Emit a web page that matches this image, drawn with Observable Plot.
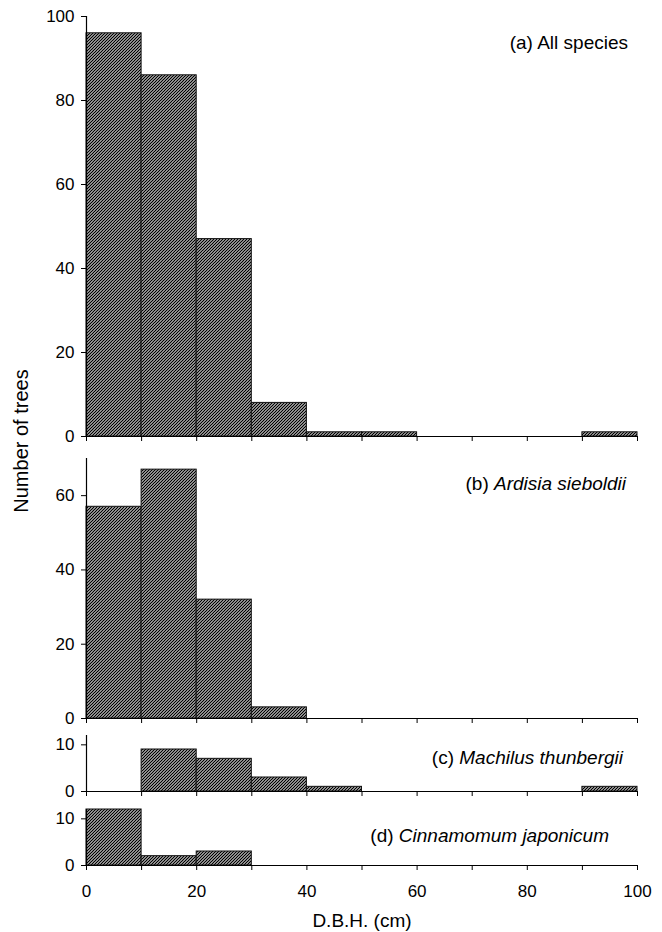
<!DOCTYPE html>
<html>
<head>
<meta charset="utf-8">
<script src="https://cdn.jsdelivr.net/npm/d3@7"></script>
<script src="https://cdn.jsdelivr.net/npm/@observablehq/plot@0.6"></script>
<style>
  body { margin: 0; background: #fff; font-family: 'Liberation Sans', Arial, sans-serif; }
  #chart { position: relative; width: 662px; height: 932px; overflow: hidden; }
  .panel { position: absolute; left: 0; }
  .plabel { position: absolute; font-size: 19px; line-height: 19px; white-space: nowrap; color: #000; }
  .ylabel { position: absolute; font-size: 20px; line-height: 20px; width: 240px; text-align: center; transform: rotate(-90deg); white-space: nowrap; }
</style>
</head>
<body>
<svg width="0" height="0" style="position:absolute">
  <defs>
    <pattern id="hatch" patternUnits="userSpaceOnUse" width="3" height="3">
      <rect width="3" height="3" fill="#fff"></rect>
      <path d="M-1,1 l2,-2 M0,3 l3,-3 M2,4 l2,-2" stroke="#000" stroke-width="1.3"></path>
    </pattern>
  </defs>
</svg>
<div id="chart"></div>
<script>
// ---- data ----
const binStarts = [0, 10, 20, 30, 40, 50, 60, 70, 80, 90];
const binWidth = 10;
const countsAll = [96, 86, 47, 8, 1, 1, 0, 0, 0, 1];
const countsArdisia = [57, 67, 32, 3, 0, 0, 0, 0, 0, 0];
const countsMachilus = [0, 9, 7, 3, 1, 0, 0, 0, 0, 1];
const countsCinnamomum = [12, 2, 3, 0, 0, 0, 0, 0, 0, 0];

const xTicks = [0, 10, 20, 30, 40, 50, 60, 70, 80, 90, 100];
const xTickLabels = [0, 20, 40, 60, 80, 100];
const yTicksA = [0, 20, 40, 60, 80, 100];
const yTicksB = [0, 20, 40, 60];
const yTicksC = [0, 10];
const yTicksD = [0, 10];

const xTitle = "D.B.H. (cm)";
const yTitle = "Number of trees";

const panels = [
  {counts: countsAll, ymax: 100, yTicks: yTicksA, top: 0, mt: 16, inner: 420, mb: 6, prefix: "(a) ", name: "All species", italic: false, right: 34, cy: 42, last: false},
  {counts: countsArdisia, ymax: 70, yTicks: yTicksB, top: 442, mt: 16, inner: 260, mb: 6, prefix: "(b) ", name: "Ardisia sieboldii", italic: true, right: 36, cy: 483, last: false},
  {counts: countsMachilus, ymax: 12, yTicks: yTicksC, top: 724, mt: 11, inner: 56, mb: 6, prefix: "(c) ", name: "Machilus thunbergii", italic: true, right: 39, cy: 757, last: false},
  {counts: countsCinnamomum, ymax: 12, yTicks: yTicksD, top: 797, mt: 12, inner: 56, mb: 67, prefix: "(d) ", name: "Cinnamomum japonicum", italic: true, right: 53, cy: 835, last: true}
];

const chart = document.getElementById("chart");

for (const p of panels) {
  const rows = binStarts.map((b, i) => ({x1: b, x2: b + binWidth, count: p.counts[i]})).filter(d => d.count > 0);
  const marks = [
    Plot.rectY(rows, {x1: "x1", x2: "x2", y1: 0, y2: "count", fill: "url(#hatch)", stroke: "#111", strokeWidth: 1}),
    Plot.ruleY([0], {stroke: "#000", strokeWidth: 1.2}),
    Plot.ruleX([0], {stroke: "#000", strokeWidth: 1.2}),
    Plot.axisY({ticks: p.yTicks, tickSize: 5, tickPadding: 7, label: null, fontSize: 17, stroke: "#000"}),
    Plot.axisX({ticks: xTicks, tickSize: 5, tickPadding: 14, label: null, fontSize: 17,
      tickFormat: p.last ? (d => xTickLabels.includes(d) ? String(d) : "") : (() => "")})
  ];
  if (p.last) {
    marks.push(Plot.text([xTitle], {text: d => d, frameAnchor: "bottom", dy: 55, fontSize: 19, lineAnchor: "middle", fill: "#000"}));
  }
  const svg = Plot.plot({
    width: 662,
    height: p.mt + p.inner + p.mb,
    marginLeft: 86,
    marginRight: 25,
    marginTop: p.mt,
    marginBottom: p.mb,
    x: {domain: [0, 100]},
    y: {domain: [0, p.ymax]},
    style: {fontFamily: "'Liberation Sans', Arial, sans-serif", fontSize: "17px", color: "#000", background: "transparent", overflow: "visible"},
    marks
  });
  const wrap = document.createElement("div");
  wrap.className = "panel";
  wrap.style.top = p.top + "px";
  wrap.appendChild(svg);
  chart.appendChild(wrap);

  const lab = document.createElement("div");
  lab.className = "plabel";
  lab.style.right = p.right + "px";
  lab.style.top = (p.cy - 9.5) + "px";
  lab.appendChild(document.createTextNode(p.prefix));
  const nm = document.createElement(p.italic ? "i" : "span");
  nm.textContent = p.name;
  lab.appendChild(nm);
  chart.appendChild(lab);
}

const yl = document.createElement("div");
yl.className = "ylabel";
yl.textContent = yTitle;
yl.style.left = (21 - 120) + "px";
yl.style.top = (441 - 10) + "px";
chart.appendChild(yl);
</script>
</body>
</html>
